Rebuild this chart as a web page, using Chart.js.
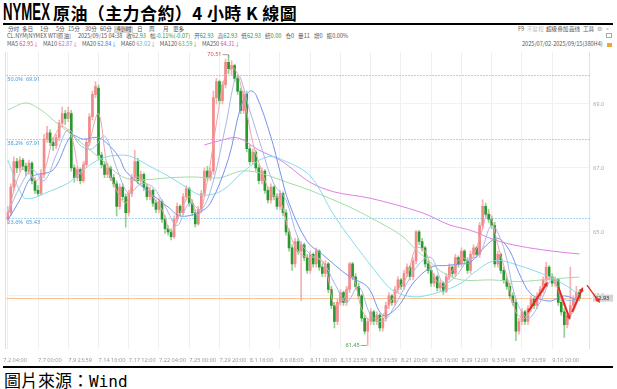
<!DOCTYPE html>
<html lang="zh-Hant">
<head>
<meta charset="UTF-8">
<title>NYMEX 原油（主力合約）4小時K線圖</title>
<style>
    body {
        margin: 0;
        width: 617px;
        height: 389px;
        background: #fff;
        position: relative;
        overflow: hidden;
        font-family: 'Noto Sans CJK SC', 'Noto Sans', sans-serif;
    }
    .abs { position: absolute; white-space: nowrap; }
    .rule { position: absolute; left: 3px; width: 610px; height: 2px; background: #000; }
    .small { font-size: 5.6px; line-height: 7px; color: #555; }
    .tb span { position: absolute; top: 0; }
    .row { display: flex; gap: 4px; }
    .g { color: #24993a; }
    #chartBox { position: absolute; left: 0; top: 42px; }
</style>
</head>
<body>
    <div class="abs" style="left:3px; top:-2px; font: bold 24px 'Liberation Sans Narrow', 'Liberation Sans', sans-serif; transform: scaleX(0.55); transform-origin: 0 0;">NYMEX</div>
    <div class="abs" style="left:53px; top:0px; font: bold 17px 'Noto Sans CJK TC', sans-serif; letter-spacing: 0.4px;">原油（主力合約）4 小時 K 線圖</div>
    <div class="rule" style="top:23px"></div>

    <div class="abs small tb" style="left:0; top:26px; width:617px; height:8px;">
        <span style="left:8px">分时</span>
        <span style="left:22px">多日</span>
        <span style="left:40px">1分</span>
        <span style="left:56px">5分</span>
        <span style="left:68px">15分</span>
        <span style="left:85px">30分</span>
        <span style="left:100px">60分</span>
        <span style="left:114px; width:19px; height:7px; background:#d6d6d6;"></span>
        <span style="left:117px; color:#333">4小时</span>
        <span style="left:137px">日</span>
        <span style="left:149px">周</span>
        <span style="left:163px">月</span>
        <span style="left:173px">更多</span>
        <span style="left:518px">F9</span>
        <span style="left:527px; color:#bbb">不复权</span>
        <span style="left:546px">超级叠加</span>
        <span style="left:569px">画线</span>
        <span style="left:583px">工具</span>
        <span style="left:597px; color:#999">⚙</span>
        <span style="left:606px; color:#999">»</span>
    </div>

    <div class="abs small row" style="left:7px; top:33px;">
        <span>CL.NYM[NYMEX WTI原油]</span>
        <span style="margin-left:3px">2025/09/15 04:38</span>
        <span>收<span class="g">62.93</span></span>
        <span>幅<span class="g">-0.11%(-0.07)</span></span>
        <span>开<span class="g">62.93</span></span>
        <span>高<span class="g">62.93</span></span>
        <span>低<span class="g">62.93</span></span>
        <span>结<span class="g">0.00</span></span>
        <span>仓0</span>
        <span>量11</span>
        <span>增0</span>
        <span>振0.00%</span>
    </div>

    <div class="abs small row" style="left:7px; top:41px;">
        <span>MA5 <span style="color:#e8476e">62.95↓</span></span>
        <span>MA10 <span style="color:#7b86d8">62.87↓</span></span>
        <span>MA20 <span style="color:#4f72e0">62.84↓</span></span>
        <span>MA60 <span style="color:#3cbfd6">63.02↓</span></span>
        <span>MA120 <span style="color:#4cb04c">63.59↓</span></span>
        <span>MA250 <span style="color:#c84fd8">64.31↓</span></span>
    </div>

    <div class="abs small" style="left:522px; top:41px;">2025/07/02-2025/09/15(380H4)</div>
    <div class="abs" style="left:606px; top:33px; width:6px; height:5px; border:1px solid #aaa; box-sizing:border-box;"></div>
    <div class="abs" style="left:607px; top:43px; width:5px; height:4px; background:#f2a33a;"></div>

    <div id="chartBox"><canvas id="kline" width="617" height="324"></canvas></div>

    <div class="rule" style="top:366px"></div>
    <div class="abs" style="left:4px; top:367px; font: 17px 'Noto Sans CJK TC', sans-serif;">圖片來源：<span style="font: 16px 'DejaVu Sans Mono', monospace;">Wind</span></div>

    <script src="https://cdn.jsdelivr.net/npm/chart.js"></script>
    <script>
        // 4H candles (each entry covers two 4-hour bars)
        const opens = [
            65.40, 65.60, 66.40, 67.20, 67.00, 67.25, 67.05, 66.90, 67.15, 66.60,
            66.30, 66.20, 66.80, 67.90, 68.10, 67.80, 67.70, 67.95, 68.40, 68.70,
            68.55, 68.70, 67.00, 66.70, 66.95, 66.60, 67.10, 67.80, 68.60, 69.30,
            69.50, 67.40, 67.10, 66.80, 67.00, 66.70, 66.50, 65.80, 66.40, 66.10,
            65.60, 66.20, 66.70, 67.20, 66.60, 66.80, 66.40, 66.10, 66.30, 65.90,
            65.70, 65.95, 65.40, 65.10, 65.00, 64.85, 65.40, 65.80, 65.60, 66.10,
            66.35, 65.90, 65.60, 65.25, 65.70, 66.20, 66.90, 66.70, 66.90, 69.20,
            69.70, 69.10, 69.60, 70.30, 70.10, 70.20, 69.80, 69.40, 68.80, 69.30,
            67.60, 67.20, 67.50, 67.00, 66.60, 66.90, 66.30, 66.00, 66.40, 66.10,
            65.80, 66.20, 65.60, 65.00, 64.50, 64.00, 64.70, 64.40, 64.60, 64.20,
            63.80, 64.30, 64.00, 64.40, 63.90, 63.70, 64.00, 63.20, 62.70, 62.20,
            62.80, 63.10, 62.80, 63.20, 64.00, 63.60, 63.30, 63.00, 62.30, 61.90,
            62.20, 62.50, 62.20, 62.40, 62.00, 62.30, 62.70, 63.00, 62.80, 63.20,
            63.50, 63.30, 63.70, 63.90, 63.60, 64.10, 65.00, 64.70, 64.50, 64.00,
            63.80, 63.40, 63.60, 63.25, 63.40, 63.15, 63.60, 63.90, 63.70, 64.20,
            64.00, 64.40, 64.10, 63.80, 64.30, 64.50, 64.30, 65.20, 65.80, 65.55,
            65.40, 65.20, 64.00, 64.30, 63.80, 63.50, 63.30, 63.00, 62.80, 61.90,
            62.20, 62.50, 62.20, 62.60, 62.90, 62.70, 63.00, 63.20, 63.50, 63.90,
            63.60, 63.40, 63.50, 62.80, 62.50, 62.10, 62.40, 62.70, 62.90, 63.10
        ];
        const highs = [
            65.80, 66.50, 67.35, 67.30, 67.35, 67.30, 67.15, 67.25, 67.20, 66.70,
            66.45, 66.95, 68.05, 68.30, 68.20, 67.95, 68.05, 68.50, 68.90, 68.80,
            68.90, 68.80, 67.10, 67.05, 67.00, 67.20, 67.90, 68.70, 69.40, 69.70,
            69.60, 67.50, 67.20, 67.15, 67.05, 66.80, 66.60, 66.50, 66.50, 66.20,
            66.30, 66.80, 67.55, 67.30, 66.90, 66.85, 66.50, 66.40, 66.35, 66.00,
            66.05, 66.00, 65.50, 65.20, 65.10, 65.50, 65.90, 65.85, 66.20, 66.45,
            66.40, 66.00, 65.70, 65.80, 66.30, 67.00, 67.05, 67.00, 69.40, 69.80,
            69.75, 69.70, 70.40, 70.51, 70.35, 70.25, 69.90, 69.50, 69.40, 69.40,
            67.70, 67.60, 67.55, 67.10, 67.00, 66.95, 66.40, 66.50, 66.45, 66.20,
            66.30, 66.25, 65.70, 65.10, 64.60, 64.80, 64.80, 64.70, 64.65, 64.30,
            64.40, 64.35, 64.50, 64.45, 64.00, 64.10, 64.05, 63.30, 62.80, 62.90,
            63.20, 63.15, 63.30, 64.05, 64.05, 63.70, 63.40, 63.05, 62.40, 62.30,
            62.60, 62.55, 62.50, 62.45, 62.40, 62.80, 63.10, 63.05, 63.30, 63.60,
            63.55, 63.80, 64.00, 63.95, 64.20, 65.05, 65.05, 64.80, 64.55, 64.10,
            63.90, 63.70, 63.65, 63.50, 63.45, 63.70, 64.00, 63.95, 64.30, 64.25,
            64.50, 64.45, 64.20, 64.40, 64.60, 64.55, 65.30, 66.00, 65.90, 65.70,
            65.50, 65.30, 64.40, 64.35, 63.90, 63.60, 63.40, 63.10, 62.90, 62.30,
            62.60, 62.55, 62.70, 63.00, 62.95, 63.10, 63.30, 63.60, 64.05, 63.95,
            63.70, 63.60, 63.55, 62.90, 62.60, 62.50, 63.90, 63.00, 63.30, 63.20
        ];
        const lows = [
            65.25, 65.50, 66.30, 66.85, 66.90, 66.95, 66.75, 66.80, 66.50, 66.20,
            66.10, 66.15, 66.70, 67.80, 67.70, 67.55, 67.60, 67.85, 68.30, 68.35,
            68.45, 66.90, 66.55, 66.60, 66.50, 66.55, 67.00, 67.70, 68.50, 69.20,
            67.25, 67.00, 66.70, 66.70, 66.60, 66.40, 65.50, 65.70, 66.00, 65.15,
            65.50, 66.10, 66.60, 66.50, 66.50, 66.30, 66.00, 66.00, 65.80, 65.60,
            65.60, 65.30, 64.95, 64.90, 64.75, 64.80, 65.30, 65.50, 65.55, 66.00,
            65.80, 65.50, 65.15, 65.20, 65.60, 66.10, 66.60, 66.60, 66.80, 69.00,
            69.00, 69.00, 69.50, 69.95, 69.90, 69.70, 69.30, 68.70, 68.70, 67.50,
            67.10, 67.10, 66.90, 66.50, 66.50, 66.20, 65.90, 65.90, 66.00, 65.70,
            65.70, 65.50, 64.90, 64.40, 63.80, 63.90, 64.30, 62.85, 64.10, 63.70,
            63.70, 63.90, 63.90, 63.80, 63.60, 63.60, 63.10, 62.60, 62.00, 62.10,
            62.70, 62.70, 62.70, 63.10, 63.50, 63.20, 62.90, 62.20, 61.80, 61.45,
            62.10, 62.10, 62.10, 61.90, 61.90, 62.20, 62.60, 62.70, 62.70, 63.10,
            63.20, 63.20, 63.60, 63.50, 63.50, 64.00, 64.60, 64.40, 63.90, 63.70,
            63.30, 63.30, 63.15, 63.15, 63.05, 63.10, 63.50, 63.60, 63.60, 63.90,
            63.90, 64.00, 63.70, 63.70, 64.20, 64.20, 64.20, 65.10, 65.45, 65.30,
            65.10, 63.90, 63.90, 63.70, 63.40, 63.20, 62.90, 62.70, 61.60, 61.80,
            62.10, 62.10, 62.10, 62.50, 62.60, 62.60, 62.90, 63.10, 63.40, 63.50,
            63.30, 63.30, 62.70, 62.40, 61.70, 62.00, 62.30, 62.60, 62.80, 62.85
        ];
        const closes = [
            65.60, 66.40, 67.20, 67.00, 67.25, 67.05, 66.90, 67.15, 66.60, 66.30,
            66.20, 66.80, 67.90, 68.10, 67.80, 67.70, 67.95, 68.40, 68.70, 68.55,
            68.75, 67.00, 66.70, 66.95, 66.60, 67.10, 67.80, 68.60, 69.30, 69.55,
            67.40, 67.10, 66.80, 67.00, 66.70, 66.50, 65.80, 66.40, 66.10, 65.60,
            66.20, 66.70, 67.20, 66.60, 66.80, 66.40, 66.10, 66.30, 65.90, 65.70,
            65.95, 65.40, 65.10, 65.00, 64.85, 65.40, 65.80, 65.60, 66.10, 66.35,
            65.90, 65.60, 65.25, 65.70, 66.20, 66.90, 66.70, 66.90, 69.20, 69.70,
            69.10, 69.60, 70.30, 70.10, 70.20, 69.80, 69.40, 68.80, 69.30, 67.60,
            67.20, 67.50, 67.00, 66.60, 66.90, 66.30, 66.00, 66.40, 66.10, 65.80,
            66.20, 65.60, 65.00, 64.50, 64.00, 64.70, 64.40, 64.60, 64.20, 63.80,
            64.30, 64.00, 64.40, 63.90, 63.70, 64.00, 63.20, 62.70, 62.20, 62.80,
            63.10, 62.80, 63.20, 64.00, 63.60, 63.30, 63.00, 62.30, 61.90, 62.20,
            62.50, 62.20, 62.40, 62.00, 62.30, 62.70, 63.00, 62.80, 63.20, 63.50,
            63.30, 63.70, 63.90, 63.60, 64.10, 65.00, 64.70, 64.50, 64.00, 63.80,
            63.40, 63.60, 63.25, 63.40, 63.15, 63.60, 63.90, 63.70, 64.20, 64.00,
            64.40, 64.10, 63.80, 64.30, 64.50, 64.30, 65.20, 65.80, 65.55, 65.40,
            65.20, 64.00, 64.30, 63.80, 63.50, 63.30, 63.00, 62.80, 61.90, 62.20,
            62.50, 62.20, 62.60, 62.90, 62.70, 63.00, 63.20, 63.50, 63.90, 63.60,
            63.40, 63.50, 62.80, 62.50, 62.10, 62.40, 62.70, 62.90, 63.10, 62.93
        ];

        // moving averages, sampled at candle indexes
        const ma5Idx = [0,3,6,9,12,15,18,21,24,27,30,33,36,39,42,45,48,51,54,57,60,63,66,69,72,75,78,81,84,87,90,93,96,99,102,105,108,111,114,117,120,123,126,129,132,135,138,141,144,147,150,153,156,159,162,165,168,171,174,177,180,183,186,189];
        const ma5Val = [65.5,66.6,67.1,66.6,66.9,67.9,68.3,68.0,66.8,67.8,68.7,67.0,66.3,65.9,66.7,66.6,66.1,65.7,65.0,65.6,66.1,65.5,66.6,68.4,69.9,70.1,69.2,67.8,66.9,66.2,66.0,65.0,64.4,64.2,64.2,63.9,62.7,62.9,63.6,62.6,62.2,62.3,62.7,63.2,63.6,64.5,64.4,63.6,63.3,63.8,64.2,64.1,64.8,65.6,64.6,63.6,62.5,62.3,62.8,63.3,63.6,62.9,62.4,62.95];
        const ma10Idx = [0,4,8,12,16,20,24,28,32,36,40,44,48,52,56,60,64,68,72,76,80,84,88,92,96,100,104,108,112,116,120,124,128,132,136,140,144,148,152,156,160,164,168,172,176,180,184,189];
        const ma10Val = [65.6,66.4,66.95,66.6,67.4,68.2,67.7,67.6,68.0,67.0,66.2,66.5,66.4,65.8,65.2,65.9,65.7,66.6,68.3,69.9,68.8,67.6,66.5,66.0,64.8,64.3,64.1,63.4,62.8,63.3,62.4,62.2,62.7,63.4,64.0,64.2,63.4,63.6,64.1,64.3,65.2,64.5,62.9,62.3,62.8,63.5,62.9,62.87];
        const ma20Idx = [0,4,8,15,21,25,30,34,37,39,46,53,57,63,67,73,77,80,82,87,90,93,99,104,113,119,124,129,134,140,145,150,153,158,162,166,169,173,179,184,189];
        const ma20Val = [65.37,66.0,66.72,66.94,68.0,67.9,67.95,67.66,67.3,66.9,66.3,65.78,65.5,65.6,65.9,67.3,68.9,69.4,69.3,67.97,66.9,65.9,64.7,64.3,63.6,63.28,62.4,62.66,63.4,63.9,63.95,64.0,64.05,64.56,64.8,64.4,63.72,63.06,62.84,63.0,62.84];
        const ma60Idx = [0,5,8,12,20,25,31,37,41,48,53,59,64,71,78,86,92,100,108,116,122,127,134,142,150,154,161,169,179,185,189];
        const ma60Val = [67.25,66.1,66.05,66.2,66.53,66.94,67.3,67.4,67.35,67.0,66.75,66.4,66.15,66.3,66.9,67.35,67.2,66.75,65.5,64.45,63.72,63.19,62.97,63.1,63.4,63.72,64.1,63.95,63.6,63.3,63.02];
        const ma120Idx = [0,6,11,15,22,30,38,44,53,61,70,77,83,93,100,113,120,130,135,140,144,150,160,169,180,189];
        const ma120Val = [68.81,69.03,68.81,68.5,67.97,67.34,66.72,66.63,66.69,66.72,66.69,66.9,66.85,66.53,66.3,65.78,65.44,64.9,64.44,64.03,63.72,63.5,63.5,63.45,63.53,63.59];
        const ma250Idx = [65,70,76,83,90,93,100,108,120,137,146,153,161,169,180,189];
        const ma250Val = [67.72,67.85,67.94,67.56,67.25,67.05,66.55,66.25,66.05,65.6,65.22,65.05,64.75,64.56,64.4,64.31];

        const xTickIdx = [0,10,20,30,40,50,60,70,80,90,100,110,120,130,140,150,160,170,180];
        const xTickText = ['7.2 04:00','7.7 00:00','7.9 23:59','7.14 16:00','7.17 12:00','7.22 04:00','7.25 00:00','7.29 20:00','8.1 16:00','8.6 08:00',
                           '8.11 00:00','8.13 23:59','8.18 23:59','8.21 20:00','8.26 16:00','8.29 12:00','9.3 04:00','9.7 23:59','9.10 20:00'];
        const yTicks = [63, 65, 67, 69];

        const fibLevels = [69.91, 67.91, 65.43];
        const fibNames = ['50.0%', '38.2%', '23.6%'];
        const lastPrice = 62.93;
        const highMark = { idx: 73, value: 70.51 };
        const lowMark = { idx: 119, value: 61.45 };
        // hand-drawn arrows: [fromIdx, fromPrice, toIdx, toPrice]
        const arrows = [
            [172.0, 62.50, 178.6, 63.44],
            [182.0, 63.28, 185.9, 62.25],
            [186.6, 62.50, 190.2, 63.28],
            [191.5, 63.34, 195.8, 62.78]
        ];

        const N = closes.length;
        const EXTRA = 3; // empty slots at the right edge
        const labels = Array.from({ length: N + EXTRA }, (_, i) => i);
        const isUp = closes.map((c, i) => c >= opens[i]);

        function sparse(idx, vals) {
            const arr = new Array(N + EXTRA).fill(null);
            idx.forEach((k, n) => { arr[k] = vals[n]; });
            return arr;
        }

        function maLine(idx, vals, color) {
            return {
                type: 'line',
                data: sparse(idx, vals),
                borderColor: color,
                borderWidth: 1,
                pointRadius: 0,
                spanGaps: true,
                tension: 0.35,
                order: 0
            };
        }

        const overlay = {
            id: 'overlay',
            beforeDatasetsDraw(chart) {
                const { ctx, chartArea: a, scales: { y } } = chart;
                ctx.save();
                // plot edges
                ctx.strokeStyle = '#e2e2e2';
                ctx.lineWidth = 1;
                ctx.beginPath();
                ctx.moveTo(Math.round(a.left) - 0.5, a.top);
                ctx.lineTo(Math.round(a.left) - 0.5, a.bottom);
                ctx.moveTo(Math.round(a.right) - 0.5, a.top);
                ctx.lineTo(Math.round(a.right) - 0.5, a.bottom);
                ctx.stroke();

                // fibonacci levels
                ctx.font = "5.6px 'Noto Sans', sans-serif";
                ctx.textBaseline = 'top';
                ctx.textAlign = 'left';
                fibLevels.forEach((v, i) => {
                    const py = Math.round(y.getPixelForValue(v)) + 0.5;
                    ctx.strokeStyle = '#8cc6ec';
                    ctx.setLineDash([1.5, 1.5]);
                    ctx.beginPath();
                    ctx.moveTo(a.left, py);
                    ctx.lineTo(a.right, py);
                    ctx.stroke();
                    ctx.fillStyle = '#4a9ad6';
                    ctx.fillText(fibNames[i] + '  ' + v.toFixed(2), a.left + 1, py + 1);
                });
                ctx.setLineDash([]);

                // last price line
                const lp = Math.round(y.getPixelForValue(lastPrice)) + 0.5;
                ctx.strokeStyle = '#f8c49a';
                ctx.beginPath();
                ctx.moveTo(a.left, lp);
                ctx.lineTo(a.right + 2, lp);
                ctx.stroke();
                ctx.restore();
            },
            afterDatasetsDraw(chart) {
                const { ctx, chartArea: a, scales: { x, y } } = chart;
                ctx.save();
                ctx.font = "5.6px 'Noto Sans', sans-serif";
                ctx.textBaseline = 'middle';

                // x labels
                ctx.fillStyle = '#9a9a9a';
                ctx.textAlign = 'left';
                xTickIdx.forEach((idx, i) => {
                    const px = i === 0 ? a.left - 3 : x.getPixelForValue(idx);
                    ctx.fillText(xTickText[i], px, a.bottom + 11);
                });

                // last price tag
                const lp = y.getPixelForValue(lastPrice);
                ctx.fillStyle = '#d4d4d4';
                ctx.fillRect(a.right + 3, lp - 3.5, 20, 7);
                ctx.fillStyle = '#333';
                ctx.fillText(lastPrice.toFixed(2), a.right + 5, lp);

                // high / low marks
                const hx = x.getPixelForValue(highMark.idx), hy = y.getPixelForValue(highMark.value);
                ctx.strokeStyle = '#888';
                ctx.lineWidth = 0.8;
                ctx.beginPath();
                ctx.moveTo(hx - 6, hy - 1);
                ctx.lineTo(hx, hy - 1);
                ctx.lineTo(hx, hy + 1);
                ctx.stroke();
                ctx.fillStyle = '#e0454f';
                ctx.textAlign = 'right';
                ctx.fillText(highMark.value.toFixed(2), hx - 7, hy - 1);

                const lx = x.getPixelForValue(lowMark.idx), ly = y.getPixelForValue(lowMark.value);
                ctx.beginPath();
                ctx.moveTo(lx - 7, ly);
                ctx.lineTo(lx - 1, ly);
                ctx.stroke();
                ctx.fillStyle = '#3a9a3a';
                ctx.fillText(lowMark.value.toFixed(2), lx - 8, ly);

                // red arrows
                arrows.forEach((ar, i) => {
                    const x0 = x.getPixelForValue(ar[0]), y0 = y.getPixelForValue(ar[1]);
                    const x1 = x.getPixelForValue(ar[2]), y1 = y.getPixelForValue(ar[3]);
                    const ang = Math.atan2(y1 - y0, x1 - x0);
                    const head = 5;
                    ctx.strokeStyle = '#e8281e';
                    ctx.fillStyle = '#e8281e';
                    ctx.lineWidth = i === 3 ? 1.3 : 2;
                    ctx.beginPath();
                    ctx.moveTo(x0, y0);
                    ctx.lineTo(x1 - Math.cos(ang) * 3, y1 - Math.sin(ang) * 3);
                    ctx.stroke();
                    ctx.beginPath();
                    ctx.moveTo(x1, y1);
                    ctx.lineTo(x1 - head * Math.cos(ang - 0.45), y1 - head * Math.sin(ang - 0.45));
                    ctx.lineTo(x1 - head * Math.cos(ang + 0.45), y1 - head * Math.sin(ang + 0.45));
                    ctx.closePath();
                    ctx.fill();
                });
                ctx.restore();
            }
        };

        const ctx = document.getElementById('kline').getContext('2d');
        new Chart(ctx, {
            type: 'bar',
            data: {
                labels: labels,
                datasets: [
                    maLine(ma5Idx, ma5Val, '#f2a0a8'),
                    maLine(ma10Idx, ma10Val, '#a8b6e6'),
                    maLine(ma20Idx, ma20Val, '#7593ee'),
                    maLine(ma60Idx, ma60Val, '#86dbe9'),
                    maLine(ma120Idx, ma120Val, '#a3dca3'),
                    maLine(ma250Idx, ma250Val, '#e07ee6'),
                    {
                        data: opens.map((o, i) => [o, closes[i]]),
                        backgroundColor: isUp.map(u => u ? '#f28a8a' : '#27992f'),
                        barThickness: 2,
                        minBarLength: 1,
                        grouped: false,
                        order: 1
                    },
                    {
                        data: lows.map((l, i) => [l, highs[i]]),
                        backgroundColor: isUp.map(u => u ? '#f6b2b2' : '#94d094'),
                        barThickness: 1,
                        grouped: false,
                        order: 2
                    }
                ]
            },
            options: {
                responsive: false,
                animation: false,
                devicePixelRatio: 1,
                layout: { padding: { left: 6.25, top: 10, right: 0, bottom: 17 } },
                plugins: {
                    legend: { display: false },
                    tooltip: { enabled: false }
                },
                scales: {
                    x: {
                        type: 'category',
                        offset: true,
                        grid: { color: '#efefef', offset: false, drawTicks: false },
                        border: { display: false },
                        ticks: { display: false },
                        afterBuildTicks: axis => { axis.ticks = xTickIdx.map(v => ({ value: v })); }
                    },
                    y: {
                        position: 'right',
                        min: 61.34,
                        max: 70.625,
                        grid: { color: '#f1f1f1', drawTicks: false },
                        border: { display: false },
                        ticks: {
                            font: { size: 5.6, family: 'Noto Sans' },
                            color: '#a8a8a8',
                            padding: 3,
                            callback: v => Number(v).toFixed(1)
                        },
                        afterBuildTicks: axis => { axis.ticks = yTicks.map(v => ({ value: v })); },
                        afterFit: scale => { scale.width = 27; }
                    }
                }
            },
            plugins: [overlay]
        });
    </script>
</body>
</html>
